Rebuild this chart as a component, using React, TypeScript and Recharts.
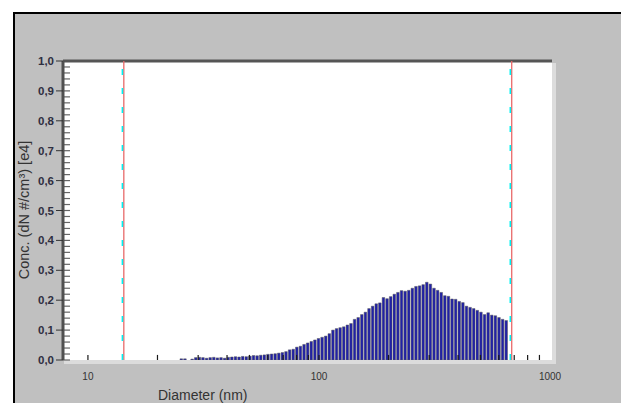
import React from "react";
import {
  ComposedChart,
  Bar,
  XAxis,
  YAxis,
  CartesianGrid,
  ReferenceLine,
} from "recharts";

// channel midpoints (nm), 64 channels per decade
const diameters = [
  23.71, 24.58, 25.48, 26.42, 27.38, 28.39, 29.43, 30.51, 31.62, 32.78,
  33.98, 35.23, 36.52, 37.86, 39.24, 40.68, 42.17, 43.72, 45.32, 46.98,
  48.7, 50.49, 52.33, 54.25, 56.23, 58.29, 60.43, 62.65, 64.94, 67.32,
  69.78, 72.34, 74.99, 77.74, 80.58, 83.54, 86.6, 89.77, 93.06, 96.47,
  100, 103.66, 107.46, 111.4, 115.48, 119.71, 124.09, 128.64, 133.35, 138.24,
  143.3, 148.55, 153.99, 159.64, 165.48, 171.54, 177.83, 184.34, 191.09, 198.09,
  205.35, 212.87, 220.67, 228.75, 237.14, 245.82, 254.83, 264.17, 273.84, 283.87,
  294.27, 305.05, 316.23, 327.81, 339.82, 352.27, 365.17, 378.55, 392.42, 406.8,
  421.7, 437.14, 453.16, 469.76, 486.97, 504.81, 523.3, 542.47, 562.34, 582.94,
  604.3, 626.43, 649.38,
];

// dN concentration [e4]
const conc = [
  0, 0, 0.004, 0.004, 0, 0.003, 0.008, 0.009, 0.008, 0.006,
  0.008, 0.009, 0.007, 0.008, 0.006, 0.009, 0.01, 0.011, 0.01, 0.012,
  0.011, 0.013, 0.015, 0.014, 0.016, 0.017, 0.019, 0.02, 0.021, 0.023,
  0.025, 0.028, 0.034, 0.036, 0.043, 0.046, 0.052, 0.057, 0.062, 0.067,
  0.072, 0.076, 0.08, 0.088, 0.1, 0.105, 0.108, 0.111, 0.117, 0.122,
  0.136, 0.142, 0.152, 0.16, 0.172, 0.18, 0.188, 0.191, 0.209, 0.205,
  0.212, 0.22, 0.226, 0.232, 0.23, 0.233, 0.24, 0.246, 0.248, 0.252,
  0.26, 0.254, 0.24, 0.233, 0.226, 0.215, 0.213, 0.204, 0.203, 0.196,
  0.192, 0.18, 0.176, 0.172, 0.166, 0.16, 0.152, 0.158, 0.15, 0.148,
  0.142, 0.136, 0.132,
];

const xLabelTicks = [10, 100, 1000];
const xMinorTicks = [10, 20, 30, 40, 50, 60, 70, 80, 90, 100, 200, 300, 400, 500, 600, 700, 800, 900];
const yTicks = [0, 0.1, 0.2, 0.3, 0.4, 0.5, 0.6, 0.7, 0.8, 0.9, 1];
const yMinorTicks = [
  0, 0.02, 0.04, 0.06, 0.08, 0.1, 0.12, 0.14, 0.16, 0.18,
  0.2, 0.22, 0.24, 0.26, 0.28, 0.3, 0.32, 0.34, 0.36, 0.38,
  0.4, 0.42, 0.44, 0.46, 0.48, 0.5, 0.52, 0.54, 0.56, 0.58,
  0.6, 0.62, 0.64, 0.66, 0.68, 0.7, 0.72, 0.74, 0.76, 0.78,
  0.8, 0.82, 0.84, 0.86, 0.88, 0.9, 0.92, 0.94, 0.96, 0.98, 1,
];
const rangeLimits = [14.2, 678];

const data = diameters.map((d, i) => ({ d, c: conc[i] }));

const FONT = '"Liberation Sans", Arial, sans-serif';

function RangeMarker(props: any) {
  const { x1, y1, x2, y2 } = props;
  return (
    <g>
      <line x1={x1 + 0.7} y1={y1} x2={x2 + 0.7} y2={y2} stroke="#e86a6a" strokeWidth={1.3} />
      <line
        x1={x1 - 0.7}
        y1={y1}
        x2={x2 - 0.7}
        y2={y2}
        stroke="#00f2f2"
        strokeWidth={1.6}
        strokeDasharray="6 13"
      />
    </g>
  );
}

// minor ticks drawn inward from the left axis
function MinorTick(props: any) {
  const { x, y } = props;
  return <line x1={x} y1={y} x2={x + 7} y2={y} stroke="#666" strokeWidth={1.2} />;
}

export default function App() {
  return (
    <div
      style={{
        position: "fixed",
        left: 0,
        top: 0,
        width: 621,
        height: 403,
        background: "#fff",
        overflow: "hidden",
        fontFamily: FONT,
      }}
    >
      {/* grey panel */}
      <div
        style={{
          position: "absolute",
          left: 13,
          top: 12,
          width: 610,
          height: 395,
          background: "#c0c0c0",
          borderTop: "2px solid #000",
          borderLeft: "2px solid #000",
        }}
      />
      {/* plot shadow */}
      <div style={{ position: "absolute", left: 552, top: 63, width: 4, height: 300, background: "#dcdcdc" }} />
      <div style={{ position: "absolute", left: 64, top: 360, width: 492, height: 4, background: "#dcdcdc" }} />

      <div style={{ position: "absolute", left: 0, top: 0 }}>
        <ComposedChart
          width={621}
          height={403}
          data={data}
          margin={{ top: 61, right: 69, left: 23, bottom: 13 }}
        >
          <CartesianGrid fill="#fff" horizontal={false} vertical={false} />
          <XAxis
            dataKey="d"
            type="number"
            scale="log"
            domain={[7.8, 1020]}
            allowDataOverflow
            ticks={xLabelTicks}
            interval={0}
            height={30}
            axisLine={false}
            tickLine={false}
            tickSize={6}
            tickMargin={7}
            tick={{ fontSize: 10, fill: "#333", fontFamily: FONT }}
          />
          <YAxis
            yAxisId="minor"
            orientation="right"
            domain={[0, 1]}
            ticks={yMinorTicks}
            interval={0}
            width={0}
            hide
          />
          <YAxis
            domain={[0, 1]}
            ticks={yTicks}
            interval={0}
            width={40}
            allowDataOverflow
            tickSize={7}
            tickMargin={2}
            axisLine={{ stroke: "#505050", strokeWidth: 3 }}
            tickLine={{ stroke: "#333" }}
            tickFormatter={(v: number) => v.toFixed(1).replace(".", ",")}
            tick={{ fontSize: 11.5, fontWeight: "bold", fill: "#2e2e40", fontFamily: FONT }}
          />
          <Bar
            dataKey="c"
            barSize={2.6}
            fill="#2020a8"
            stroke="#5a5a5a"
            strokeWidth={0.5}
            isAnimationActive={false}
          />
          {yMinorTicks.map((t) => (
            <ReferenceLine
              key={"m" + t}
              y={t}
              stroke="none"
              shape={(p: any) => <MinorTick x={p.x1} y={p.y1} />}
            />
          ))}
          {xMinorTicks.map((t) => (
            <ReferenceLine
              key={t}
              segment={[
                { x: t, y: 0 },
                { x: t, y: 0.017 },
              ]}
              stroke="#1a1a1a"
              strokeWidth={1.2}
            />
          ))}
          <ReferenceLine y={1} stroke="#555" strokeWidth={3} />
          {rangeLimits.map((r) => (
            <ReferenceLine key={r} x={r} shape={RangeMarker} />
          ))}
        </ComposedChart>
      </div>

      <div
        style={{
          position: "absolute",
          left: 24,
          top: 210,
          transform: "translate(-50%, -50%) rotate(-90deg)",
          whiteSpace: "nowrap",
          fontSize: 14.5,
          color: "#333",
        }}
      >
        Conc. (dN #/cm³) [e4]
      </div>
      <div
        style={{
          position: "absolute",
          left: 158,
          top: 387,
          whiteSpace: "nowrap",
          fontSize: 14,
          color: "#333",
        }}
      >
        Diameter (nm)
      </div>
    </div>
  );
}
